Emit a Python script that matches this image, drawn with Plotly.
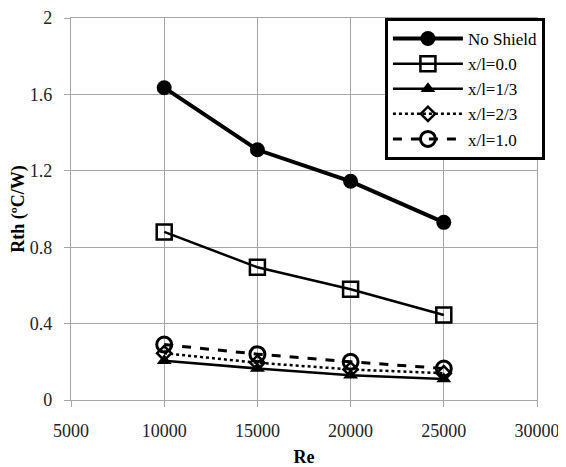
import plotly.graph_objects as go

re_vals = [10000, 15000, 20000, 25000]
no_shield = [1.635, 1.31, 1.145, 0.93]
xl_00 = [0.88, 0.695, 0.58, 0.445]
xl_13 = [0.205, 0.165, 0.13, 0.11]
xl_23 = [0.245, 0.195, 0.16, 0.14]
xl_10 = [0.29, 0.24, 0.20, 0.165]

names = ["No Shield", "x/l=0.0", "x/l=1/3", "x/l=2/3", "x/l=1.0"]
series = [no_shield, xl_00, xl_13, xl_23, xl_10]
styles = [
    dict(dash="solid", width=4, symbol="circle", size=15, mline=0),
    dict(dash="solid", width=2.5, symbol="square-open", size=15, mline=2.5),
    dict(dash="solid", width=2.5, symbol="triangle-up", size=13, mline=0),
    dict(dash="dot", width=2.5, symbol="diamond-open", size=11, mline=2.5),
    dict(dash="dash", width=3, symbol="circle-open", size=15, mline=3),
]

fig = go.Figure()
for name, ys, st in zip(names, series, styles):
    fig.add_trace(go.Scatter(
        x=re_vals, y=ys, name=name, mode="lines+markers",
        line=dict(color="black", width=st["width"], dash=st["dash"]),
        marker=dict(symbol=st["symbol"], size=st["size"], color="black",
                    line=dict(color="black", width=st["mline"])),
    ))

font = "Liberation Serif"
fig.update_layout(
    width=558, height=459,
    margin=dict(l=63, r=29, t=10, b=67),
    paper_bgcolor="white", plot_bgcolor="white",
    font=dict(family=font, size=17, color="#222"),
    showlegend=True,
    legend=dict(
        x=1.017, y=1.0, xanchor="right", yanchor="top",
        xref="paper", yref="paper",
        bordercolor="black", borderwidth=3, bgcolor="white",
        font=dict(family=font, size=17, color="black"),
        tracegroupgap=0, itemwidth=70,
    ),
    xaxis=dict(
        range=[5000, 30000], dtick=5000, tick0=5000, tickformat="d",
        showgrid=True, gridcolor="#a6a6a6", gridwidth=1.3,
        showline=True, linecolor="#a6a6a6", linewidth=1.3,
        ticks="outside", ticklen=6, tickcolor="#a6a6a6",
        ticklabelstandoff=8, ticklabeloverflow="allow",
        tickfont=dict(family=font, size=18, color="#222"),
        title=dict(text="<b>Re</b>", font=dict(family=font, size=18, color="black"), standoff=14),
        zeroline=False, automargin=False, mirror=True,
    ),
    yaxis=dict(
        range=[0, 2], dtick=0.4, tick0=0,
        showgrid=True, gridcolor="#a6a6a6", gridwidth=1.3,
        showline=True, linecolor="#a6a6a6", linewidth=1.3,
        ticks="outside", ticklen=6, tickcolor="#a6a6a6",
        ticklabelstandoff=8, ticklabeloverflow="allow",
        tickfont=dict(family=font, size=18, color="#222"),
        title=dict(text="<b>Rth (ºC/W)</b>", font=dict(family=font, size=18, color="black"), standoff=0),
        zeroline=False, automargin=False, mirror=True,
    ),
)
fig.write_html("out.html")
